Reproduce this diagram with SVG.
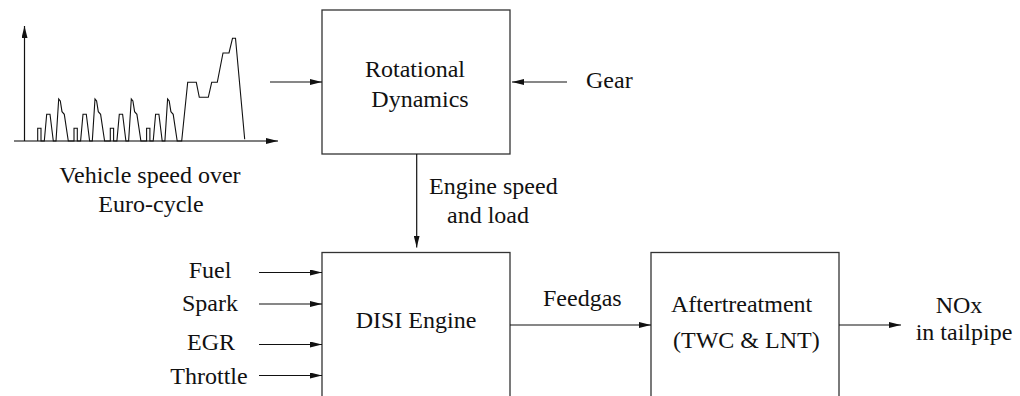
<svg xmlns="http://www.w3.org/2000/svg" width="1020" height="396" viewBox="0 0 1020 396">
  <style>
    text { font-family: 'Liberation Serif', 'Times New Roman', Times, 'DejaVu Serif', serif; font-size: 24px; fill: #111; }
    .box { fill: #fff; stroke: #333; stroke-width: 1.3; }
    .wire { fill: none; stroke: #111; stroke-width: 1.2; }
    .trace { fill: none; stroke: #111; stroke-width: 1.1; stroke-linejoin: miter; }
    .axis { fill: none; stroke: #555; stroke-width: 1.4; }
    .mid { text-anchor: middle; }
  </style>
  <defs>
    <marker id="arrow" viewBox="0 0 12 6" refX="12" refY="3" markerWidth="12" markerHeight="6" markerUnits="userSpaceOnUse" orient="auto">
      <path d="M0,0 L12,3 L0,6 Z" fill="#111"/>
    </marker>
  </defs>

  <rect width="1020" height="396" fill="#fff"/>

  <g font-family="'Liberation Serif', 'Times New Roman', Times, 'DejaVu Serif', serif">
  <!-- speed profile plot -->
  <g id="speed-chart">
    <line class="axis" x1="14" y1="141" x2="278" y2="141" marker-end="url(#arrow)"/>
    <line class="wire" x1="24.5" y1="141" x2="24.5" y2="26" marker-end="url(#arrow)"/>
    <polyline class="trace" points="37.7,141 37.7,128.3 41,128.3 41,141 44.3,141 46.7,114.3 50,114.3 53.3,141 56,141 58.7,99 60.3,101 62,111.7 64.3,114.3 68.3,141 74,141
      74,128.3 77.3,128.3 77.3,141 80.6,141 83,114.3 86.3,114.3 89.6,141 92.3,141 95,99 96.6,101 98.3,111.7 100.6,114.3 104.6,141 110.3,141
      110.3,128.3 113.6,128.3 113.6,141 116.9,141 119.3,114.3 122.6,114.3 125.9,141 128.6,141 131.3,99 132.9,101 134.6,111.7 136.9,114.3 140.9,141 146.6,141
      146.6,128.3 149.9,128.3 149.9,141 153.2,141 155.6,114.3 158.9,114.3 162.2,141 164.9,141 167.6,99 169.2,101 170.9,111.7 173.2,114.3 177.2,141 181.7,141
      187.7,82.3 196.3,82.3 199.3,97.3 208.3,97.3 211.7,82.3 217.3,82.3 223,53 229,53 232.5,38.3 235.5,38.3 244.7,139.3"/>
    <text class="mid" x="150" y="183">Vehicle speed over</text>
    <text class="mid" x="151" y="212">Euro-cycle</text>
  </g>

  <g id="rotational-dynamics">
    <rect class="box" x="322" y="10" width="188" height="144"/>
    <text class="mid" x="415" y="77">Rotational</text>
    <text class="mid" x="420" y="107">Dynamics</text>
  </g>

  <g id="gear">
    <text x="586" y="88">Gear</text>
  </g>

  <g id="engine-speed-load">
    <text x="429" y="194">Engine speed</text>
    <text x="447" y="223">and load</text>
  </g>

  <g id="engine-inputs">
    <text class="mid" x="210" y="278">Fuel</text>
    <text class="mid" x="210" y="311">Spark</text>
    <text class="mid" x="211" y="350">EGR</text>
    <text class="mid" x="209" y="384">Throttle</text>
  </g>

  <g id="disi-engine">
    <rect class="box" x="322" y="252.5" width="188" height="160"/>
    <text class="mid" x="416" y="328">DISI Engine</text>
  </g>

  <g id="feedgas">
    <text x="543" y="306">Feedgas</text>
  </g>

  <g id="aftertreatment">
    <rect class="box" x="651" y="252.5" width="188" height="160"/>
    <text x="671" y="312">Aftertreatment</text>
    <text x="673" y="348">(TWC &amp; LNT)</text>
  </g>

  <g id="tailpipe-nox">
    <text class="mid" x="959" y="313">NOx</text>
    <text class="mid" x="964" y="340">in tailpipe</text>
  </g>
  </g>

  <g id="connectors">
    <line class="wire" x1="270" y1="82" x2="322" y2="82" marker-end="url(#arrow)"/>
    <line class="wire" x1="567" y1="82" x2="512" y2="82" marker-end="url(#arrow)"/>
    <line class="wire" x1="416.7" y1="154" x2="416.7" y2="247.5" marker-end="url(#arrow)"/>
    <line class="wire" x1="259" y1="272.5" x2="322" y2="272.5" marker-end="url(#arrow)"/>
    <line class="wire" x1="259" y1="304" x2="322" y2="304" marker-end="url(#arrow)"/>
    <line class="wire" x1="259" y1="344.5" x2="322" y2="344.5" marker-end="url(#arrow)"/>
    <line class="wire" x1="259" y1="375.5" x2="322" y2="375.5" marker-end="url(#arrow)"/>
    <line class="wire" x1="510" y1="325" x2="651" y2="325" marker-end="url(#arrow)"/>
    <line class="wire" x1="839" y1="325" x2="901" y2="325" marker-end="url(#arrow)"/>
  </g>
</svg>
